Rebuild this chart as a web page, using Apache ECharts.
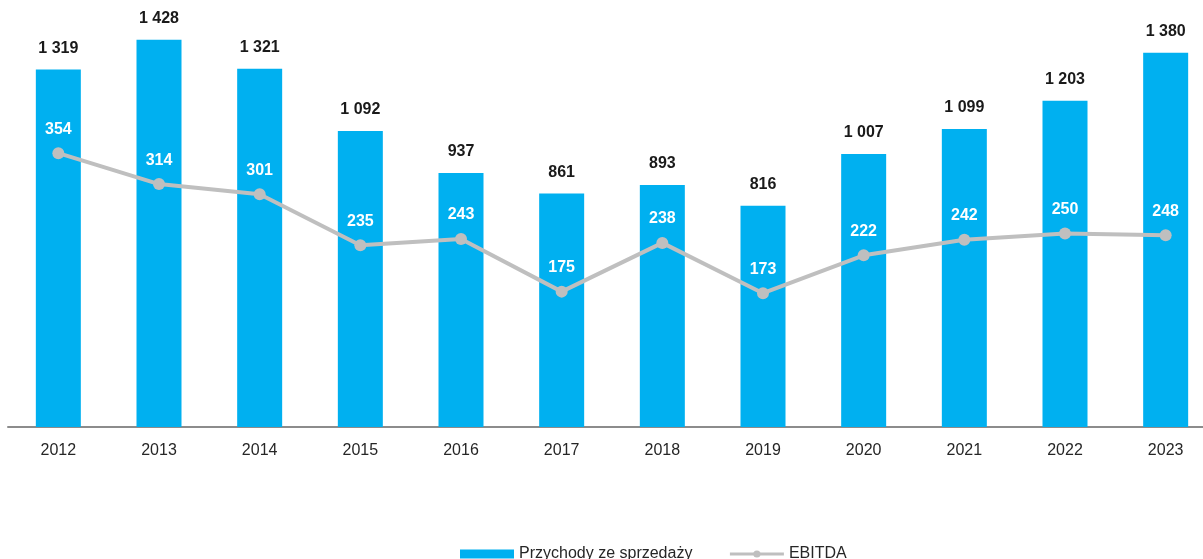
<!DOCTYPE html>
<html>
<head>
<meta charset="utf-8">
<script src="https://cdn.jsdelivr.net/npm/echarts@6/dist/echarts.min.js"></script>
<style>
  html, body { margin: 0; padding: 0; background: #fff; }
  #chart { width: 1203px; height: 559px; }
</style>
</head>
<body>
<div id="chart"></div>
<script>
// dane
const years = ['2012', '2013', '2014', '2015', '2016', '2017', '2018', '2019', '2020', '2021', '2022', '2023']
const revenue = [1319, 1428, 1321, 1092, 937, 861, 893, 816, 1007, 1099, 1203, 1380]
const ebitda = [354, 314, 301, 235, 243, 175, 238, 173, 222, 242, 250, 248]

const font = '"Liberation Sans", Arial, sans-serif'

// separator tysięcy jako spacja
function fmt(v) {
  return String(v).replace(/\B(?=(\d{3})+(?!\d))/g, ' ')
}

const chart = echarts.init(document.getElementById('chart'))

chart.setOption({
  animation: false,
  textStyle: { fontFamily: font },
  legend: {
    left: 455,
    top: 541,
    itemWidth: 54,
    itemHeight: 9,
    itemGap: 36,
    textStyle: { fontSize: 16, color: '#262626', fontFamily: font },
    data: [
      { name: 'Przychody ze sprzedaży', icon: 'rect' },
      { name: 'EBITDA', lineStyle: { width: 3, color: '#BFBFBF' } }
    ]
  },
  // wykres jest przycięty z prawej strony, więc siatka wychodzi poza obszar
  grid: {
    left: 8,
    width: 1208,
    top: 0,
    bottom: 132,
    outerBoundsMode: 'none'
  },
  xAxis: {
    type: 'category',
    data: years,
    axisLine: { lineStyle: { color: '#8c8c8c', width: 2 } },
    axisTick: { show: false },
    axisLabel: { fontSize: 16, color: '#262626', margin: 16, fontFamily: font }
  },
  yAxis: [
    { type: 'value', min: 0, max: 1575, show: false, splitLine: { show: false } },
    { type: 'value', min: 0, max: 552, show: false, splitLine: { show: false } }
  ],
  series: [
    {
      name: 'Przychody ze sprzedaży',
      type: 'bar',
      data: revenue,
      barWidth: 45,
      itemStyle: { color: '#00B0F0' },
      label: {
        show: true,
        position: 'top',
        distance: 13,
        fontSize: 16,
        fontWeight: 'bold',
        color: '#1a1a1a',
        fontFamily: font,
        formatter: p => fmt(p.value)
      }
    },
    {
      name: 'EBITDA',
      type: 'line',
      yAxisIndex: 1,
      data: ebitda,
      symbol: 'circle',
      symbolSize: 12,
      lineStyle: { color: '#BFBFBF', width: 4 },
      itemStyle: { color: '#BFBFBF' },
      label: {
        show: true,
        position: 'top',
        distance: 10,
        fontSize: 16,
        fontWeight: 'bold',
        color: '#fff',
        fontFamily: font
      }
    }
  ]
})
</script>
</body>
</html>
